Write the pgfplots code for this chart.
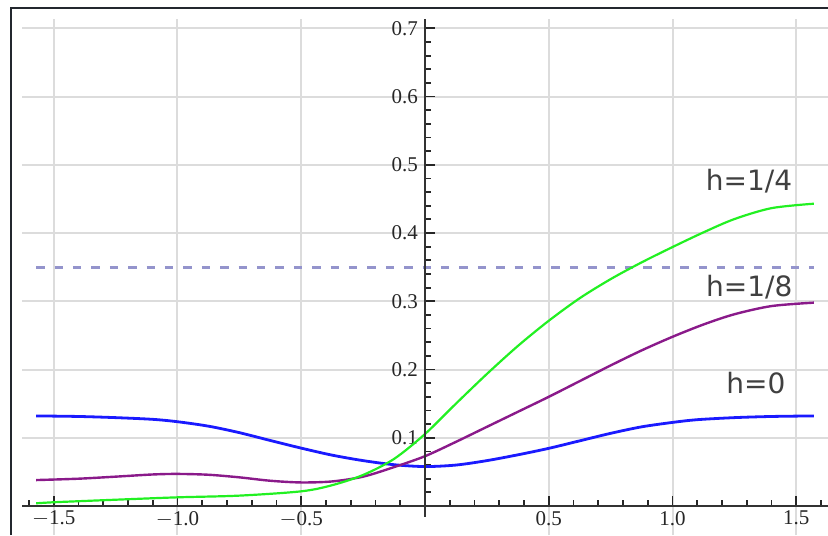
\documentclass[border=0pt]{standalone}
\usepackage{fontspec}
\setmainfont{Liberation Serif}
\newfontfamily\labfont{DejaVu Sans}
\usepackage{pgfplots}
\pgfplotsset{compat=1.18}
\definecolor{gridgray}{HTML}{DCDCDC}
\definecolor{cblue}{HTML}{1A1AFF}
\definecolor{cgreen}{HTML}{22F022}
\definecolor{cpurple}{HTML}{8A1A8A}
\definecolor{cdash}{HTML}{9494CC}
\definecolor{frame}{HTML}{23272E}

\pgfplotstableread{
x y
-1.5708 0.132
-1.4 0.1312
-1.25 0.1295
-1.1 0.127
-1.0 0.1235
-0.875 0.117
-0.75 0.1075
-0.625 0.096
-0.5 0.0848
-0.375 0.0745
-0.25 0.0665
-0.125 0.0605
0 0.0578
0.125 0.0600
0.25 0.0665
0.375 0.0750
0.5 0.0845
0.625 0.0955
0.75 0.1065
0.875 0.116
1.0 0.1225
1.1 0.1265
1.25 0.1295
1.4 0.1312
1.5708 0.132
}\hzero

\pgfplotstableread{
x y
-1.5708 0.038
-1.4 0.040
-1.25 0.043
-1.1 0.0462
-1.0 0.047
-0.875 0.0458
-0.75 0.042
-0.625 0.037
-0.5 0.0345
-0.375 0.0360
-0.25 0.043
-0.125 0.0570
0 0.073
0.125 0.094
0.25 0.116
0.375 0.138
0.5 0.160
0.625 0.183
0.75 0.206
0.875 0.228
1.0 0.248
1.125 0.266
1.25 0.281
1.4 0.293
1.5708 0.298
}\heighth

\pgfplotstableread{
x y
-1.5708 0.004
-1.5 0.0055
-1.4 0.007
-1.25 0.0092
-1.0 0.0127
-0.75 0.0152
-0.5 0.0215
-0.375 0.0305
-0.25 0.0455
-0.125 0.069
0 0.1055
0.125 0.150
0.25 0.1935
0.375 0.2345
0.5 0.2715
0.625 0.3045
0.75 0.3325
0.875 0.3570
1.0 0.3795
1.125 0.4010
1.25 0.4205
1.4 0.4365
1.5708 0.443
}\hquarter

\begin{document}
\begin{tikzpicture}
\begin{axis}[
  at={(0,0)}, anchor=south west,
  scale only axis, width=403pt, height=258pt,
  xmin=-1.628, xmax=1.628, ymin=-0.0425, ymax=0.7137,
  axis lines=middle,
  x axis line style={-, black!80, line width=0.7pt},
  y axis line style={draw=none},
  xtick={-1.5,-1,-0.5,0.5,1,1.5},
  xticklabels={$-$1.5,$-$1.0,$-$0.5,0.5,1.0,1.5},
  ytick={0.1,0.2,0.3,0.4,0.5,0.6,0.7},
  yticklabels={0.1,0.2,0.3,0.4,0.5,0.6,0.7},
  minor xtick={-1.6,-1.4,-1.3,-1.2,-1.1,-0.9,-0.8,-0.7,-0.6,-0.4,-0.3,-0.2,-0.1,0.1,0.2,0.3,0.4,0.6,0.7,0.8,0.9,1.1,1.2,1.3,1.4,1.6},
  minor ytick={0.02,0.04,0.06,0.08,0.12,0.14,0.16,0.18,0.22,0.24,0.26,0.28,0.32,0.34,0.36,0.38,0.42,0.44,0.46,0.48,0.52,0.54,0.56,0.58,0.62,0.64,0.66,0.68},
  tick align=inside,
  major tick length=5pt, minor tick length=3pt,
  major tick style={black!85, line width=0.9pt},
  minor tick style={black!85, line width=0.9pt},
  grid=major,
  major grid style={gridgray, line width=1pt},
  xticklabel style={font=\fontsize{10.5}{12}\selectfont, text=black!85, yshift=1pt},
  yticklabel style={font=\fontsize{10.5}{12}\selectfont, text=black!85},
  clip=false,
]
\addplot[cdash, line width=1.6pt, dash pattern=on 4.2pt off 5pt] coordinates {(-1.5708,0.35) (1.5708,0.35)};
\addplot[cblue, line width=1.4pt, smooth, tension=0.5] table[x=x,y=y] {\hzero};
\addplot[cpurple, line width=1.2pt, smooth, tension=0.5] table[x=x,y=y] {\heighth};
\addplot[cgreen, line width=1.1pt, smooth, tension=0.5] table[x=x,y=y] {\hquarter};
\draw[black!80, line width=0.7pt] (axis cs:0,-0.016) -- (axis cs:0,0.7137);
\node[font=\labfont\fontsize{14}{16}\selectfont, text=black!75] at (axis cs:1.309,0.4767) {h=1/4};
\node[font=\labfont\fontsize{14}{16}\selectfont, text=black!75] at (axis cs:1.31,0.3214) {h=1/8};
\node[font=\labfont\fontsize{14}{16}\selectfont, text=black!75] at (axis cs:1.337,0.180) {h=0};
\end{axis}
\draw[frame, line width=1.4pt] (-5.5pt,0) -- (-5.5pt,263.5pt) -- (404pt,263.5pt);
\pgfresetboundingbox
\path (-11pt,0) rectangle (403pt,267.5pt);
\end{tikzpicture}
\end{document}
